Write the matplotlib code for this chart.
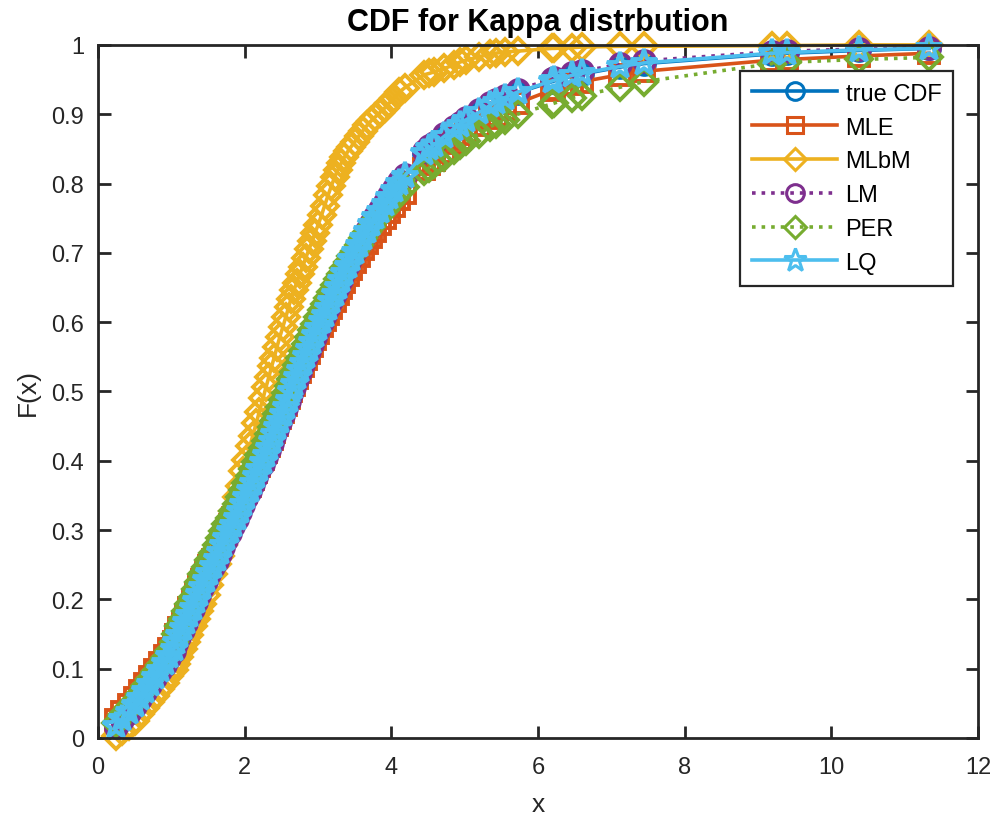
import numpy as np
import matplotlib
matplotlib.use("Agg")
import matplotlib.pyplot as plt

# sorted sample points
x = [0.25, 0.33, 0.42, 0.50, 0.57, 0.64, 0.71, 0.78, 0.85, 0.91, 0.97, 1.03, 1.07, 1.11,
     1.16, 1.20, 1.24, 1.29, 1.33, 1.38, 1.42, 1.47, 1.52, 1.57, 1.62, 1.66, 1.71, 1.75,
     1.80, 1.84, 1.89, 1.93, 1.98, 2.02, 2.07, 2.11, 2.16, 2.20, 2.25, 2.29, 2.33, 2.37,
     2.40, 2.44, 2.48, 2.52, 2.56, 2.60, 2.63, 2.67, 2.71, 2.75, 2.79, 2.83, 2.88, 2.92,
     2.96, 3.00, 3.05, 3.09, 3.14, 3.18, 3.23, 3.27, 3.32, 3.36, 3.41, 3.45, 3.50, 3.56,
     3.61, 3.67, 3.72, 3.78, 3.84, 3.91, 3.97, 4.04, 4.11, 4.18,
     4.45, 4.52, 4.58, 4.72, 4.85, 4.93, 5.02, 5.20, 5.35, 5.42, 5.55, 5.72, 6.19, 6.22,
     6.46, 6.60, 7.12, 7.44, 9.19, 9.40, 10.37, 11.33]

true_cdf = [0.02, 0.03, 0.04, 0.05, 0.06, 0.07, 0.08, 0.09, 0.10, 0.11, 0.12, 0.13, 0.14, 0.15,
            0.16, 0.17, 0.18, 0.19, 0.20, 0.21, 0.22, 0.23, 0.24, 0.25, 0.26, 0.27, 0.28, 0.29,
            0.30, 0.31, 0.32, 0.33, 0.34, 0.35, 0.36, 0.37, 0.38, 0.39, 0.40, 0.41, 0.42, 0.43,
            0.44, 0.45, 0.46, 0.47, 0.48, 0.49, 0.50, 0.51, 0.52, 0.53, 0.54, 0.55, 0.56, 0.57,
            0.58, 0.59, 0.60, 0.61, 0.62, 0.63, 0.64, 0.65, 0.66, 0.67, 0.68, 0.69, 0.70, 0.71,
            0.72, 0.73, 0.74, 0.75, 0.76, 0.77, 0.78, 0.79, 0.80, 0.81,
            0.843, 0.850, 0.855, 0.867, 0.878, 0.884, 0.891, 0.902, 0.912, 0.916, 0.923, 0.931,
            0.947, 0.948, 0.955, 0.958, 0.968, 0.973, 0.987, 0.988, 0.992, 0.995]

mle = [0.026, 0.037, 0.047, 0.058, 0.068, 0.078, 0.088, 0.098, 0.108, 0.118, 0.128, 0.138,
       0.148, 0.158, 0.168, 0.178, 0.188, 0.198, 0.208, 0.218, 0.228, 0.238, 0.248, 0.257,
       0.267, 0.277, 0.287, 0.297, 0.307, 0.317, 0.327, 0.336, 0.346, 0.355, 0.364, 0.374,
       0.384, 0.393, 0.403, 0.413, 0.422, 0.432, 0.441, 0.451, 0.461, 0.470, 0.480, 0.490,
       0.500, 0.509, 0.519, 0.528, 0.537, 0.547, 0.556, 0.565, 0.575, 0.584, 0.594, 0.603,
       0.612, 0.621, 0.631, 0.640, 0.649, 0.658, 0.668, 0.677, 0.687, 0.696, 0.705, 0.714,
       0.723, 0.732, 0.741, 0.750, 0.759, 0.768, 0.777, 0.786,
       0.821, 0.828, 0.834, 0.846, 0.858, 0.864, 0.872, 0.884, 0.895, 0.899, 0.907, 0.916,
       0.935, 0.936, 0.943, 0.947, 0.957, 0.962, 0.978, 0.979, 0.984, 0.988]

mlbm = [0.003, 0.010, 0.018, 0.025, 0.034, 0.043, 0.052, 0.061, 0.070, 0.080, 0.089, 0.098,
        0.107, 0.117, 0.129, 0.139, 0.149, 0.161, 0.171, 0.183, 0.193, 0.206, 0.221, 0.236,
        0.251, 0.263, 0.278, 0.290, 0.310, 0.327, 0.348, 0.364, 0.385, 0.401, 0.421, 0.436,
        0.455, 0.471, 0.490, 0.506, 0.521, 0.537, 0.548, 0.564, 0.579, 0.593, 0.607, 0.622,
        0.633, 0.646, 0.657, 0.669, 0.680, 0.692, 0.706, 0.717, 0.729, 0.740, 0.755, 0.768,
        0.784, 0.796, 0.810, 0.820, 0.830, 0.838, 0.847, 0.853, 0.860, 0.869, 0.876, 0.884,
        0.890, 0.896, 0.902, 0.909, 0.916, 0.924, 0.932, 0.938,
        0.957, 0.959, 0.961, 0.966, 0.971, 0.975, 0.978, 0.983, 0.987, 0.988, 0.990, 0.991,
        0.995, 0.995, 0.996, 0.997, 0.998, 0.998, 0.999, 0.999, 1.000, 1.000]

lm = [0.016, 0.026, 0.036, 0.046, 0.056, 0.066, 0.076, 0.086, 0.096, 0.106, 0.116, 0.126,
      0.136, 0.146, 0.156, 0.166, 0.176, 0.186, 0.196, 0.206, 0.216, 0.226, 0.236, 0.246,
      0.256, 0.266, 0.276, 0.286, 0.296, 0.306, 0.316, 0.326, 0.336, 0.346, 0.356, 0.366,
      0.376, 0.386, 0.396, 0.406, 0.416, 0.426, 0.436, 0.446, 0.456, 0.466, 0.476, 0.486,
      0.497, 0.507, 0.518, 0.528, 0.539, 0.549, 0.559, 0.569, 0.579, 0.589, 0.600, 0.610,
      0.620, 0.631, 0.641, 0.651, 0.661, 0.672, 0.682, 0.692, 0.703, 0.713, 0.723, 0.733,
      0.743, 0.753, 0.763, 0.773, 0.783, 0.793, 0.803, 0.813,
      0.847, 0.854, 0.859, 0.871, 0.882, 0.888, 0.895, 0.906, 0.916, 0.920, 0.927, 0.935,
      0.951, 0.952, 0.959, 0.962, 0.972, 0.977, 0.990, 0.991, 0.994, 0.996]

per = [0.022, 0.033, 0.044, 0.054, 0.064, 0.075, 0.085, 0.095, 0.105, 0.115, 0.126, 0.139,
       0.150, 0.161, 0.172, 0.183, 0.193, 0.204, 0.215, 0.225, 0.236, 0.246, 0.257, 0.267,
       0.278, 0.288, 0.299, 0.309, 0.318, 0.328, 0.338, 0.348, 0.358, 0.368, 0.378, 0.388,
       0.398, 0.408, 0.418, 0.428, 0.438, 0.448, 0.458, 0.468, 0.478, 0.488, 0.498, 0.508,
       0.518, 0.528, 0.538, 0.548, 0.558, 0.568, 0.578, 0.588, 0.598, 0.607, 0.617, 0.626,
       0.635, 0.644, 0.653, 0.662, 0.670, 0.678, 0.687, 0.695, 0.703, 0.712, 0.721, 0.730,
       0.738, 0.747, 0.754, 0.762, 0.770, 0.778, 0.786, 0.795,
       0.818, 0.823, 0.828, 0.839, 0.849, 0.855, 0.861, 0.872, 0.882, 0.886, 0.892, 0.900,
       0.915, 0.916, 0.924, 0.927, 0.939, 0.947, 0.973, 0.975, 0.979, 0.982]

lq = [0.018, 0.028, 0.038, 0.048, 0.058, 0.068, 0.078, 0.088, 0.098, 0.108, 0.118, 0.128,
      0.138, 0.148, 0.158, 0.168, 0.178, 0.188, 0.198, 0.208, 0.218, 0.228, 0.238, 0.248,
      0.258, 0.268, 0.278, 0.288, 0.298, 0.308, 0.318, 0.328, 0.338, 0.348, 0.358, 0.368,
      0.378, 0.388, 0.398, 0.408, 0.418, 0.428, 0.438, 0.448, 0.458, 0.468, 0.478, 0.488,
      0.501, 0.511, 0.521, 0.531, 0.541, 0.551, 0.561, 0.571, 0.581, 0.591, 0.601, 0.611,
      0.621, 0.631, 0.641, 0.651, 0.661, 0.671, 0.681, 0.691, 0.701, 0.711, 0.721, 0.731,
      0.741, 0.751, 0.761, 0.771, 0.781, 0.791, 0.801, 0.811,
      0.844, 0.851, 0.856, 0.868, 0.879, 0.885, 0.892, 0.903, 0.913, 0.917, 0.924, 0.932,
      0.948, 0.949, 0.956, 0.959, 0.969, 0.974, 0.988, 0.989, 0.993, 0.995]

plt.rcParams['font.family'] = ['Liberation Sans', 'DejaVu Sans']
axis_col = '#262626'

fig = plt.figure(figsize=(9.96, 8.2), dpi=100)
ax = fig.add_axes([0.0984, 0.0988, 0.8836, 0.8452])

# (values, label, colour, linestyle, marker, marker size)
series = [
    (true_cdf, 'true CDF', '#0072BD', '-', 'o', 15),
    (mle, 'MLE', '#D95319', '-', 's', 14),
    (mlbm, 'MLbM', '#EDB120', '-', 'D', 13),
    (lm, 'LM', '#7E2F8E', ':', 'o', 15),
    (per, 'PER', '#77AC30', ':', 'D', 13),
    (lq, 'LQ', '#4DBEEE', '-', '*', 20),
]
handles = []
for vals, name, col, ls, mk, size in series:
    ln, = ax.plot(x, vals, color=col, linestyle=ls, linewidth=2.6, marker=mk,
                  markersize=size, markerfacecolor='none', markeredgecolor=col,
                  markeredgewidth=2.8, label=name, clip_on=False)
    handles.append(ln)

ax.set_xlim(0, 12)
ax.set_ylim(0, 1)
ax.set_xticks(np.arange(0, 13, 2))
ax.set_yticks(np.arange(0, 1.01, 0.1))
ax.set_yticklabels(['0', '0.1', '0.2', '0.3', '0.4', '0.5', '0.6', '0.7', '0.8', '0.9', '1'])
ax.tick_params(direction='in', top=True, right=True, length=9, width=2,
               labelsize=17, colors=axis_col)
ax.tick_params(axis='x', pad=13)
ax.tick_params(axis='y', pad=10)
for sp in ax.spines.values():
    sp.set_linewidth(2)
    sp.set_color(axis_col)
    sp.set_zorder(3)

ax.set_xlabel('x', fontsize=19, color=axis_col, labelpad=10)
ax.set_ylabel('F(x)', fontsize=19, color=axis_col, labelpad=8)
ax.set_title('CDF for Kappa distrbution', fontsize=22, fontweight='bold', pad=11)

leg = ax.legend(loc='upper right', bbox_to_anchor=(0.9716, 0.9625), fontsize=17,
                handlelength=3.6, borderpad=0.5, labelspacing=0.5, fancybox=False,
                framealpha=1, edgecolor=axis_col, handletextpad=0.35, borderaxespad=0,
                markerscale=0.85)
leg.get_frame().set_linewidth(1.6)
leg.set_zorder(5)
for lh in leg.get_lines():
    lh.set_markeredgewidth(2.2)

fig.savefig('out.png', dpi=100)
